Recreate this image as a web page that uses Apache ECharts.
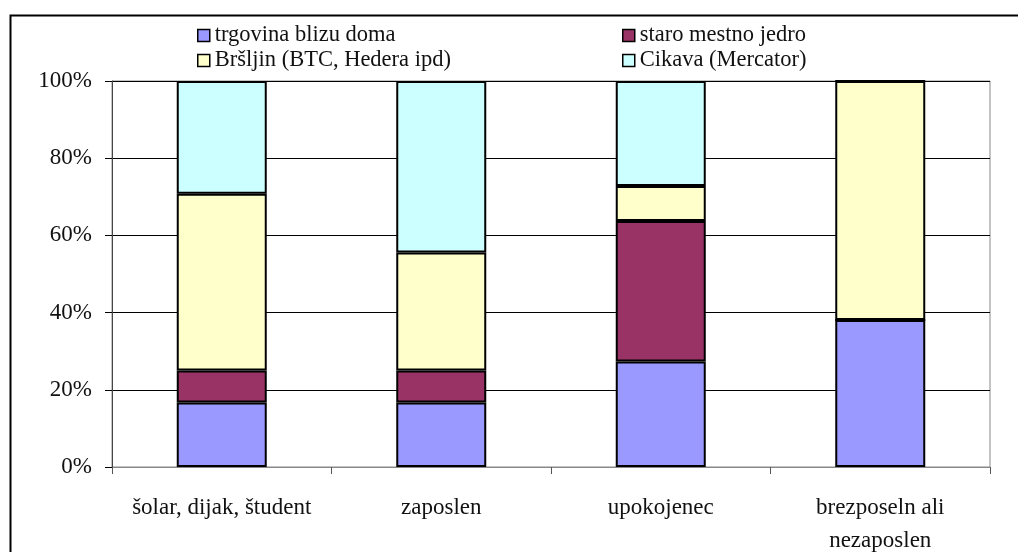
<!DOCTYPE html>
<html>
<head>
<meta charset="utf-8">
<script src="https://cdn.jsdelivr.net/npm/echarts@6/dist/echarts.min.js"></script>
<style>html,body{margin:0;padding:0;background:#fff;}#c{width:1018px;height:552px;}</style>
</head>
<body>
<div id="c"></div>
<script>
var categories = ['šolar, dijak, študent', 'zaposlen', 'upokojenec', 'brezposeln ali\nnezaposlen'];
var seriesNames = ['trgovina blizu doma', 'staro mestno jedro', 'Bršljin (BTC, Hedera ipd)', 'Cikava (Mercator)'];
var trgovina = [16.7, 16.7, 27.3, 38.1];
var staro = [8.3, 8.3, 36.4, 0];
var brsljin = [45.8, 30.6, 9.1, 61.9];
var cikava = [29.2, 44.4, 27.2, 0];
var colors = ['#9999FF', '#993366', '#FFFFCC', '#CCFFFF'];
var yTicks = [0, 20, 40, 60, 80, 100];

var font = 'Liberation Serif';
var values = [trgovina, staro, brsljin, cikava];
var chart = echarts.init(document.getElementById('c'), null, {renderer: 'canvas'});
var series = seriesNames.map(function (n, i) {
  return {
    name: n, type: 'bar', stack: 'total', data: values[i], barWidth: 90,
    itemStyle: {color: colors[i], borderColor: '#000', borderWidth: 2},
    emphasis: {disabled: true}
  };
});
var legendBase = {
  orient: 'vertical', top: 24, padding: 0, itemWidth: 12, itemHeight: 12, itemGap: 2,
  icon: 'rect', selectedMode: false,
  itemStyle: {borderWidth: 1.5, borderColor: '#000'},
  textStyle: {fontFamily: font, fontSize: 22.5, lineHeight: 20, color: '#111'}
};
chart.setOption({
  animation: false,
  color: colors,
  graphic: [{
    type: 'rect', left: 8, top: 13, silent: true,
    shape: {width: 1100, height: 700},
    style: {fill: 'none', stroke: '#000', lineWidth: 2}
  }],
  legend: [
    Object.assign({}, legendBase, {left: 197, data: [seriesNames[0], seriesNames[2]]}),
    Object.assign({}, legendBase, {left: 622, data: [seriesNames[1], seriesNames[3]]})
  ],
  grid: {left: 112, right: 28, top: 81, bottom: 85, outerBoundsMode: 'none', containLabel: false,
    show: true, borderColor: '#888', borderWidth: 1},
  xAxis: {
    type: 'category', data: categories,
    axisLine: {lineStyle: {color: '#888', width: 1}},
    axisTick: {show: true, length: 7, lineStyle: {color: '#555'}},
    axisLabel: {fontFamily: font, fontSize: 23, color: '#111', margin: 24, lineHeight: 33, interval: 0}
  },
  yAxis: {
    type: 'value', min: yTicks[0], max: yTicks[yTicks.length - 1], interval: 20,
    axisLine: {show: true, lineStyle: {color: '#444', width: 1}},
    axisTick: {show: true, length: 7, lineStyle: {color: '#000'}},
    axisLabel: {fontFamily: font, fontSize: 23, color: '#111', margin: 20, formatter: '{value}%'},
    splitLine: {show: true, lineStyle: {color: '#000', width: 1}}
  },
  series: series
});
</script>
</body>
</html>
